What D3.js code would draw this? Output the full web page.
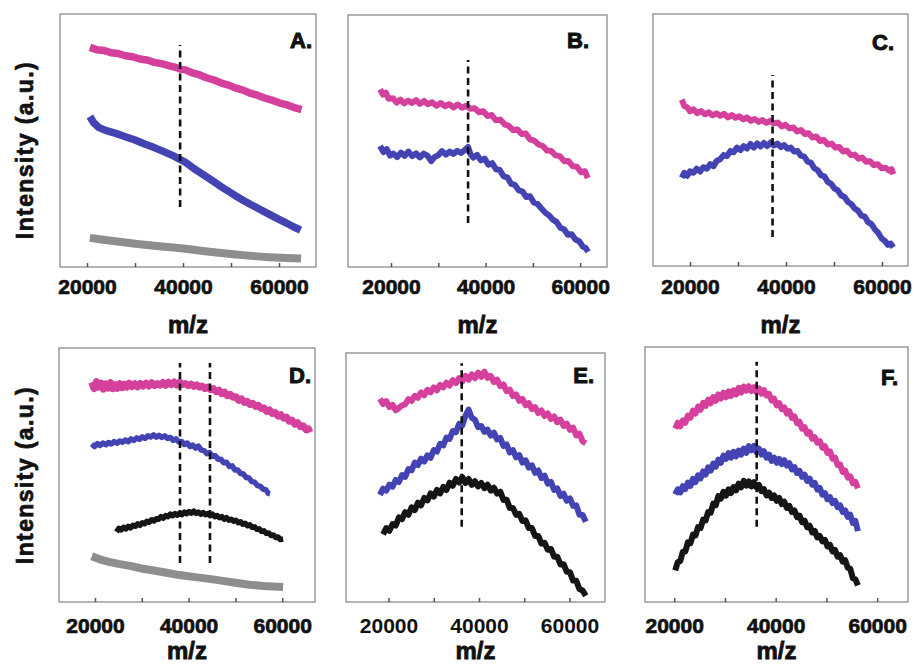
<!DOCTYPE html>
<html><head><meta charset="utf-8">
<script src="https://cdn.jsdelivr.net/npm/d3@7"></script>
<style>body{margin:0;background:#fff}svg{display:block}</style>
</head><body><svg id="c" width="917" height="666"></svg>
<script>
// ---------- DATA (m/z, intensity a.u.) ----------
const xTickLabels = [20000, 40000, 60000];
const xTickMinor = [30000, 50000];
const panelLetters = ["A.", "B.", "C.", "D.", "E.", "F."];
const xTitle = "m/z";
const yTitle = "Intensity (a.u.)";

const aMagenta = [[20600,86.8],[22000,85.9],[23500,85.6],[25000,84.7],[26500,84.4],[28000,83.5],[29500,83.1],[31000,82.2],[32500,81.8],[34000,80.9],[35500,80.4],[37000,79.6],[38500,78.9],[39400,78.2],[40500,77.9],[42000,76.7],[43500,75.9],[45000,74.7],[46500,73.9],[48000,72.7],[49500,71.9],[51000,70.7],[52500,69.9],[54000,68.7],[55500,67.9],[57000,66.8],[58500,66.0],[60000,64.9],[61500,64.2],[63000,63.1],[64700,62.2]];
const aBlue = [[20600,59.5],[21400,57.0],[22400,55.2],[24000,53.9],[26000,52.8],[28000,51.5],[30000,50.2],[32000,48.6],[34000,47.2],[36000,45.6],[38000,43.9],[39400,42.5],[40500,41.4],[42000,39.3],[43500,37.4],[45000,35.5],[46500,33.6],[48000,31.7],[49500,29.9],[51000,28.1],[52500,26.4],[54000,24.8],[55500,23.3],[57000,21.8],[58500,20.3],[60000,18.8],[61500,17.4],[63000,15.9],[64500,14.6]];
const aGray = [[20600,11.5],[23000,10.9],[25500,10.3],[28000,9.7],[30500,9.1],[33000,8.6],[35500,8.1],[38000,7.7],[40500,7.2],[43000,6.6],[45500,6.0],[48000,5.5],[50500,5.0],[53000,4.6],[55500,4.2],[58000,3.9],[60500,3.7],[63000,3.5],[64600,3.4]];
const aDash = [39400];

const bMagenta = [[17700,70.5],[18300,68.4],[18900,69.2],[19500,66.8],[20400,67.0],[21200,65.2],[22000,66.4],[22800,64.9],[23600,66.0],[24400,65.1],[25300,66.2],[26100,64.8],[27000,65.9],[27800,64.6],[28700,65.4],[29600,64.0],[30500,65.1],[31400,63.8],[32300,64.6],[33200,63.3],[34100,64.5],[35000,63.2],[35900,64.0],[36800,62.8],[37700,63.0],[38600,61.4],[39500,61.8],[40400,59.9],[41300,60.3],[42200,58.2],[43100,58.5],[44000,56.6],[44900,56.0],[45800,54.3],[46700,54.6],[47600,52.8],[48500,53.0],[49400,50.6],[50300,50.1],[51200,48.6],[52100,48.0],[53000,46.2],[53900,46.0],[54800,44.3],[55700,44.0],[56600,42.0],[57500,42.1],[58400,40.0],[59300,39.8],[60200,37.6],[61000,38.0],[61600,35.3]];
const bBlue = [[17700,48.0],[18400,45.6],[19100,46.8],[19800,44.2],[20500,45.0],[21300,43.6],[22100,45.4],[22900,44.1],[23700,45.8],[24500,44.0],[25300,45.1],[26100,43.5],[26900,45.0],[27700,44.2],[28500,42.0],[29200,43.6],[30000,44.4],[30800,46.0],[31600,44.6],[32400,45.8],[33200,44.9],[34000,46.1],[34800,45.3],[35600,46.4],[36300,47.6],[36800,44.8],[37400,43.4],[38200,44.5],[39000,42.3],[39800,43.0],[40600,40.6],[41400,41.2],[42200,38.8],[43000,38.5],[43800,36.0],[44600,35.6],[45400,33.0],[46200,32.6],[47000,30.4],[47800,30.0],[48600,27.8],[49400,28.1],[50200,25.6],[51000,25.0],[51800,23.2],[52600,21.6],[53400,20.5],[54200,18.8],[55000,17.9],[55800,15.6],[56600,15.0],[57400,12.8],[58200,13.0],[59000,10.9],[59800,10.2],[60600,8.0],[61200,7.5],[61650,6.0]];
const bDash = [36300];

const cMagenta = [[18300,66.0],[18800,63.5],[19400,63.0],[20000,61.4],[20700,62.2],[21500,60.6],[22300,61.5],[23100,60.2],[23900,61.0],[24700,59.8],[25500,60.6],[26300,59.6],[27100,60.4],[27900,59.0],[28700,59.9],[29500,58.8],[30300,59.4],[31100,58.2],[31900,58.9],[32700,57.6],[33500,58.3],[34300,57.2],[35100,57.9],[35900,56.8],[36700,57.6],[37500,56.6],[38300,56.9],[39100,55.4],[39900,56.0],[40700,54.6],[41500,55.0],[42300,53.4],[43100,54.0],[43900,52.4],[44700,52.7],[45500,51.0],[46300,51.4],[47100,49.6],[47900,50.0],[48700,48.2],[49500,48.6],[50300,47.0],[51100,47.2],[51900,45.4],[52700,45.8],[53500,44.0],[54300,44.2],[55100,42.6],[55900,43.0],[56700,41.4],[57500,41.6],[58300,40.0],[59100,40.4],[59900,38.8],[60700,39.0],[61500,37.8],[62000,38.4],[62350,36.4]];
const cBlue = [[18300,35.0],[18800,37.0],[19400,35.8],[20000,37.6],[20700,37.0],[21400,38.6],[22100,37.5],[22800,39.2],[23500,38.6],[24200,40.4],[24900,39.6],[25600,41.8],[26300,42.4],[27000,44.0],[27700,43.6],[28400,45.6],[29100,45.2],[29800,47.0],[30500,46.0],[31200,47.6],[31900,46.6],[32600,48.4],[33300,47.0],[34000,48.6],[34700,47.4],[35400,48.8],[36100,47.6],[36800,49.0],[37500,47.8],[38200,48.6],[38900,47.2],[39600,48.0],[40300,46.6],[41000,47.0],[41700,45.4],[42400,45.6],[43100,43.8],[43800,43.4],[44500,41.4],[45200,41.0],[45900,38.8],[46600,38.0],[47300,36.0],[48000,35.6],[48700,33.4],[49400,32.6],[50100,30.8],[50800,30.0],[51500,28.0],[52200,27.4],[52900,25.4],[53600,24.6],[54300,22.8],[55000,22.0],[55700,20.0],[56400,19.6],[57100,17.4],[57800,16.6],[58500,14.6],[59200,13.2],[59900,11.0],[60600,10.0],[61200,8.4],[61800,8.9],[62350,7.4]];
const cDash = [37200];

const dMagenta = [[19300,86.5],[19800,84.0],[20300,86.8],[20800,84.6],[21300,86.2],[21800,83.8],[22300,85.9],[22800,84.2],[23300,86.4],[23800,84.0],[24300,85.6],[24800,84.1],[25300,86.0],[25800,84.4],[26300,85.8],[26800,84.6],[27300,86.2],[27900,84.8],[28500,85.9],[29100,84.7],[29700,86.0],[30300,85.0],[30900,86.1],[31500,85.0],[32100,86.3],[32700,85.2],[33300,86.0],[33900,85.4],[34500,86.4],[35100,85.3],[35700,86.5],[36300,85.6],[36900,86.6],[37500,85.4],[38100,86.6],[38700,85.6],[39300,86.0],[39900,85.2],[40500,85.8],[41100,84.9],[41700,85.5],[42300,84.6],[42900,85.0],[43500,84.0],[44100,84.6],[44700,83.6],[45300,84.0],[45900,82.8],[46500,83.4],[47100,82.0],[47700,82.6],[48300,81.2],[48900,81.8],[49500,80.6],[50100,80.8],[50700,79.4],[51300,80.0],[51900,78.6],[52500,79.0],[53100,77.8],[53700,78.2],[54300,77.0],[54900,77.4],[55500,76.2],[56100,76.4],[56700,75.0],[57300,75.6],[57900,74.2],[58500,74.6],[59100,73.2],[59700,73.8],[60300,72.4],[60900,72.8],[61500,71.2],[62100,71.6],[62700,70.0],[63300,70.6],[63900,69.0],[64500,69.4],[65100,67.8],[65600,68.2],[65940,66.8]];
const dBlue = [[19300,62.2],[19900,61.2],[20500,62.4],[21100,61.6],[21700,62.6],[22300,61.9],[22900,62.8],[23500,62.2],[24100,63.2],[24700,62.5],[25300,63.4],[25900,62.9],[26500,63.8],[27100,63.1],[27700,64.2],[28300,63.6],[28900,64.6],[29500,64.0],[30100,65.0],[30700,64.4],[31300,65.4],[31900,65.0],[32500,65.8],[33100,64.9],[33700,65.6],[34300,64.8],[34900,65.4],[35500,64.4],[36100,64.8],[36700,63.6],[37300,64.2],[37900,63.0],[38500,63.2],[39100,62.0],[39700,62.6],[40300,61.2],[40900,61.8],[41500,60.6],[42100,61.4],[42700,59.8],[43300,59.6],[43900,58.4],[44500,58.8],[45100,57.4],[45700,57.6],[46300,56.2],[46900,56.2],[47500,54.8],[48100,55.0],[48700,53.4],[49300,53.6],[49900,52.0],[50500,52.0],[51100,50.6],[51700,50.4],[52300,49.0],[52900,48.8],[53500,47.4],[54100,47.2],[54700,45.8],[55300,45.6],[55900,44.4],[56500,44.2],[57000,42.8],[57400,42.6]];
const dBlack = [[24600,27.6],[25100,29.0],[25600,28.4],[26100,29.4],[26600,28.8],[27100,29.8],[27600,29.2],[28100,30.2],[28600,29.8],[29100,30.8],[29600,30.2],[30100,31.2],[30600,30.8],[31100,31.8],[31600,31.4],[32100,32.4],[32600,31.9],[33100,32.8],[33600,32.6],[34100,33.6],[34600,33.0],[35100,34.0],[35600,33.6],[36100,34.6],[36600,34.0],[37100,34.8],[37600,34.2],[38100,35.0],[38600,34.4],[39100,35.4],[39600,34.8],[40100,35.6],[40600,35.0],[41100,35.8],[41600,34.9],[42100,35.4],[42600,34.6],[43100,35.2],[43600,34.4],[44100,34.8],[44600,34.0],[45100,34.6],[45600,33.6],[46100,34.0],[46600,33.2],[47100,33.6],[47600,32.6],[48100,33.2],[48600,32.2],[49100,32.6],[49600,31.8],[50100,32.2],[50600,31.2],[51100,31.6],[51600,30.6],[52100,31.0],[52600,30.0],[53100,30.4],[53600,29.4],[54100,29.6],[54600,28.6],[55100,28.8],[55600,27.8],[56100,28.0],[56600,27.0],[57100,27.2],[57600,26.2],[58100,26.4],[58600,25.4],[59100,25.6],[59600,24.6],[60200,24.8]];
const dGray = [[19300,18.0],[21000,16.8],[23000,15.8],[25000,15.0],[27500,14.2],[30000,13.2],[32500,12.4],[35000,11.6],[38000,10.6],[41000,9.9],[44000,9.2],[47000,8.4],[50000,7.6],[53000,6.8],[56000,6.3],[58000,6.1],[60200,5.9]];
const dDash = [38160, 44570];

const eMz = [18100,18800,19500,20200,20900,21600,22300,23000,23700,24400,25100,25800,26500,27200,27900,28600,29300,30000,30700,31400,32100,32800,33500,34200,34900,35600,36300,37000,37700,38400,39100,39800,40500,41200,41900,42600,43300,44000,44700,45400,46100,46800,47500,48200,48900,49600,50300,51000,51700,52400,53100,53800,54500,55200,55900,56600,57300,58000,58700,59400,60100,60800,61500,62200,62900,63600];
const eMagenta = [81.6,79.5,80.7,78.3,79.2,77.0,77.9,79.0,79.4,81.5,80.8,82.8,82.0,84.2,83.0,85.2,84.2,86.2,85.0,87.2,86.2,88.1,86.9,89.1,87.9,89.9,88.5,90.8,89.3,91.4,89.9,92.1,90.4,92.5,90.0,90.8,88.3,89.3,86.7,87.4,84.7,85.3,82.7,83.4,80.8,81.6,79.0,79.9,77.5,78.3,75.9,76.9,74.7,75.7,73.5,74.5,72.2,73.2,70.7,71.6,69.1,70.0,66.9,67.6,64.5,63.8];
const eBlue = [43.0,45.5,44.7,47.1,46.3,49.0,48.2,51.0,50.3,53.4,52.9,56.0,55.0,57.6,56.4,58.9,57.9,61.0,60.4,63.5,62.9,66.0,65.5,68.6,68.2,71.5,70.9,74.8,77.3,74.0,73.2,70.2,70.7,68.3,69.2,66.8,68.0,65.3,65.9,62.7,63.3,60.1,61.0,58.1,59.0,56.0,56.9,54.0,54.9,51.9,52.8,49.8,50.7,47.5,48.2,45.0,45.6,42.6,43.5,40.7,41.6,38.6,38.8,35.0,34.9,32.2];
const eBlack = [null,27.2,29.7,28.6,31.3,30.7,34.0,33.3,36.1,35.0,38.0,36.9,39.9,38.8,41.8,40.8,43.6,42.3,45.0,43.6,46.2,45.0,47.9,46.7,49.4,48.0,50.2,47.8,49.4,47.0,48.5,46.4,47.8,45.7,47.1,44.7,45.9,43.5,44.3,41.0,41.1,37.8,37.8,35.0,35.4,32.5,32.8,29.7,29.7,26.5,26.5,23.5,23.8,21.0,21.3,18.2,18.2,15.1,15.2,12.1,12.0,8.6,8.5,5.2,4.6,2.5];
const eDash = [36180];

const fMz = [20200,20700,21200,21700,22200,22700,23200,23700,24200,24700,25200,25700,26200,26700,27200,27700,28200,28700,29200,29700,30200,30700,31200,31700,32200,32700,33200,33700,34200,34700,35200,35700,36200,36700,37200,37700,38200,38700,39200,39700,40200,40700,41200,41700,42200,42700,43200,43700,44200,44700,45200,45700,46200,46700,47200,47700,48200,48700,49200,49700,50200,50700,51200,51700,52200,52700,53200,53700,54200,54700,55200,55700,56200];
const fMagenta = [68.0,70.3,68.9,71.2,70.3,73.1,72.3,75.1,73.9,76.6,75.4,78.1,76.9,79.4,77.9,80.4,78.9,81.4,79.8,82.1,80.3,82.6,80.8,83.0,81.4,84.0,82.1,84.5,82.9,84.6,82.7,84.3,82.3,83.8,81.7,83.1,81.0,81.6,79.0,79.7,77.1,78.0,75.6,76.3,73.9,74.8,72.2,72.8,70.1,70.7,68.0,68.6,66.0,66.6,64.0,64.6,62.5,63.1,60.5,61.1,58.5,59.1,56.2,56.6,53.7,53.9,51.0,51.5,48.8,49.3,46.6,47.1,44.6];
const fBlue = [42.2,44.2,43.0,45.4,44.3,46.8,45.5,48.3,47.0,49.7,48.5,51.2,50.0,52.8,51.5,54.3,53.1,55.8,54.6,57.4,56.1,58.4,56.6,58.9,57.1,59.4,57.8,60.2,58.5,61.1,59.5,61.2,58.8,60.1,57.8,59.1,56.6,57.8,55.3,56.6,54.6,56.1,54.1,55.6,53.5,54.4,52.0,52.9,50.6,51.4,49.1,49.9,47.5,48.4,46.0,46.7,44.1,44.7,42.1,42.7,40.3,41.1,38.8,39.6,37.2,37.9,35.3,35.9,33.4,34.2,31.0,31.8,27.8];
const fBlack = [12.4,15.6,16.1,19.7,19.8,23.4,23.1,26.4,26.1,29.4,29.0,32.3,32.0,35.3,35.0,38.6,38.0,41.5,40.6,43.2,41.7,44.2,42.7,45.1,43.8,46.4,45.0,47.5,45.6,47.3,45.3,47.0,45.1,45.9,43.5,44.2,41.8,42.9,40.8,41.8,39.7,40.8,38.4,39.3,36.9,37.7,35.3,35.9,33.3,33.9,31.3,31.9,29.3,29.9,27.3,27.9,25.3,25.9,23.8,24.4,21.8,22.4,19.8,20.4,17.8,18.4,15.8,16.4,13.4,13.0,9.3,8.9,6.5];
const fDash = [36260];

// dashed marker vertical spans (intensity units) per panel
const dashSpans = [[23.7,87.7],[17.5,82.1],[11.5,75.8],[15.4,94.1],[30.2,95.9],[29.5,94.2]];

// ---------- STYLE / LAYOUT ----------
const MAG = "#d4409c", BLU = "#4343b3", GRY = "#8e8e8e", BLK = "#151515";
const FONT = "'Liberation Sans', Arial, sans-serif";
const zip = (xs, ys) => xs.map((m, i) => [m, ys[i]]);

const panels = [
  {box:[60,14,316,267], xd:[14375,67710], letter:[312,48], pad:12, heavy:true,
   series:[[aGray,GRY,8],[aBlue,BLU,7.5],[aMagenta,MAG,7.5]], dash:aDash},
  {box:[348,15,607,267], xd:[10910,65670], letter:[589,48], pad:12, heavy:true,
   series:[[bBlue,BLU,6],[bMagenta,MAG,6]], dash:bDash},
  {box:[653,14,908,266], xd:[12290,65420], letter:[894,50], pad:13, heavy:true,
   series:[[cBlue,BLU,6],[cMagenta,MAG,6]], dash:cDash},
  {box:[59,348,315,602], xd:[12310,67010], letter:[311,383], pad:16, heavy:true,
   series:[[dGray,GRY,8],[dBlack,BLK,5.5],[dBlue,BLU,5.5],[dMagenta,MAG,7]], dash:dDash},
  {box:[346,353,605,602], xd:[10610,67845], letter:[594,383], pad:16, heavy:false,
   series:[[zip(eMz,eBlack),BLK,6],[zip(eMz,eBlue),BLU,6],[zip(eMz,eMagenta),MAG,6]], dash:eDash},
  {box:[645,347,908,602], xd:[14250,66070], letter:[898,385], pad:16, heavy:true,
   series:[[zip(fMz,fBlack),BLK,6],[zip(fMz,fBlue),BLU,6],[zip(fMz,fMagenta),MAG,6]], dash:fDash},
];

const svg = d3.select("#c");
svg.append("rect").attr("width",917).attr("height",666).attr("fill","#fff");

panels.forEach((p, i) => {
  const [x0,y0,x1,y1] = p.box;
  const x = d3.scaleLinear().domain(p.xd).range([x0,x1]);
  const y = d3.scaleLinear().domain([0,100]).range([y1,y0]);
  const g = svg.append("g");

  g.append("rect").attr("x",x0).attr("y",y0).attr("width",x1-x0).attr("height",y1-y0)
    .attr("fill","none").attr("stroke","#8a8a8a").attr("stroke-width",1.3);

  const line = d3.line().defined(d => d[1] != null).x(d => x(d[0])).y(d => y(d[1]));
  p.series.forEach(([data,color,w]) => {
    g.append("path").datum(data).attr("d",line).attr("fill","none")
      .attr("stroke",color).attr("stroke-width",w)
      .attr("stroke-linejoin","round").attr("stroke-linecap","butt");
  });

  const span = dashSpans[i];
  p.dash.forEach(m => {
    g.append("line").attr("x1",x(m)).attr("x2",x(m)).attr("y1",y(span[0])).attr("y2",y(span[1]))
      .attr("stroke","#111").attr("stroke-width",2.6).attr("stroke-dasharray","7,4.5");
  });

  const ticks = xTickLabels.concat(xTickMinor).sort((a,b)=>a-b);
  const ax = g.append("g").attr("transform",`translate(0,${y1})`)
    .call(d3.axisBottom(x).tickValues(ticks).tickSizeInner(-4).tickSizeOuter(0).tickPadding(p.pad)
      .tickFormat(d => xTickLabels.includes(d) ? String(d) : ""));
  ax.select(".domain").remove();
  ax.selectAll(".tick line").attr("stroke","#555").attr("stroke-width",1.5);
  ax.selectAll(".tick text").attr("font-family",FONT).attr("font-size",21)
    .attr("font-weight","bold").attr("fill","#111")
    .attr("stroke", p.heavy ? "#111" : "none").attr("stroke-width", 0.7);

  svg.append("text").attr("x",(x0+x1)/2).attr("y", i < 3 ? 333 : 659)
    .attr("text-anchor","middle").attr("font-family",FONT).attr("font-weight","bold")
    .attr("font-size",24).attr("fill","#111").attr("stroke","#111").attr("stroke-width",0.8)
    .text(xTitle);

  svg.append("text").attr("x",p.letter[0]).attr("y",p.letter[1]).attr("text-anchor","end")
    .attr("font-family",FONT).attr("font-weight","bold").attr("font-size",22).attr("fill","#111")
    .attr("stroke","#111").attr("stroke-width",1)
    .text(panelLetters[i]);
});

[150, 475].forEach(cy => {
  svg.append("text").attr("transform",`translate(33,${cy}) rotate(-90)`)
    .attr("text-anchor","middle").attr("font-family",FONT).attr("font-weight","bold")
    .attr("font-size",23).attr("letter-spacing",1.4).attr("fill","#111")
    .attr("stroke","#111").attr("stroke-width",0.7).text(yTitle);
});
</script></body></html>
